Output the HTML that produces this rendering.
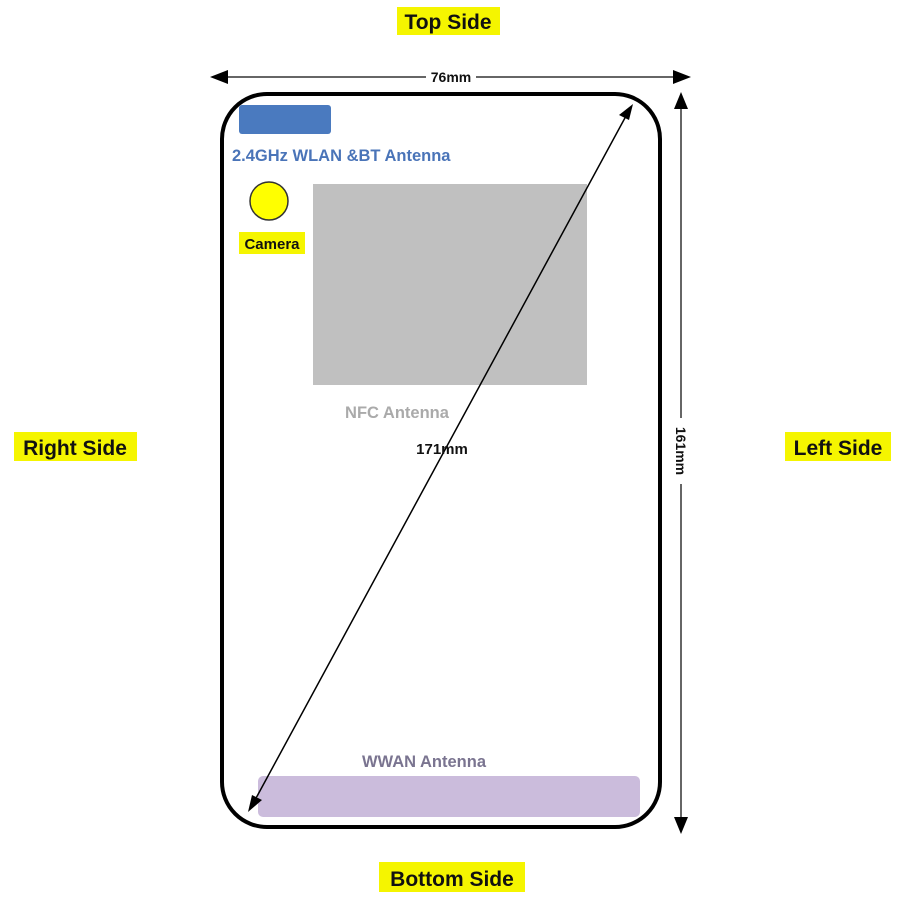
<!DOCTYPE html>
<html><head><style>
html,body{margin:0;padding:0;background:#fff;}
svg{display:block;font-family:"Liberation Sans",Arial,sans-serif;font-weight:bold;}
</style></head><body>
<svg width="900" height="900" viewBox="0 0 900 900" xmlns="http://www.w3.org/2000/svg">
<!-- highlights -->
<rect x="397" y="7" width="103" height="28" fill="#f5f500"/>
<text x="448" y="29" font-size="21" text-anchor="middle" fill="#111">Top Side</text>
<rect x="14" y="432" width="123" height="29" fill="#f5f500"/>
<text x="75" y="455" font-size="21" text-anchor="middle" fill="#111">Right Side</text>
<rect x="785" y="432" width="106" height="29" fill="#f5f500"/>
<text x="838" y="455" font-size="21" text-anchor="middle" fill="#111">Left Side</text>
<rect x="379" y="862" width="146" height="30" fill="#f5f500"/>
<text x="452" y="886" font-size="21" text-anchor="middle" fill="#111">Bottom Side</text>

<!-- phone -->
<rect x="222" y="94" width="438" height="733" rx="45" ry="45" fill="none" stroke="#000" stroke-width="4"/>
<rect x="239" y="105" width="92" height="29" rx="3" fill="#4a7abf"/>
<text x="232" y="161" font-size="16.5" fill="#4a74b8">2.4GHz WLAN &amp;BT Antenna</text>
<circle cx="269" cy="201" r="19" fill="#ffff00" stroke="#333" stroke-width="1.5"/>
<rect x="239" y="232" width="66" height="22" fill="#f5f500"/>
<text x="272" y="249" font-size="15" text-anchor="middle" fill="#111">Camera</text>
<rect x="313" y="184" width="274" height="201" fill="#c0c0c0"/>
<text x="397" y="418" font-size="16.5" text-anchor="middle" fill="#aaa">NFC Antenna</text>
<rect x="258" y="776" width="382" height="41" rx="5" fill="#cbbcdc"/>
<text x="424" y="767" font-size="16.5" text-anchor="middle" fill="#7a7490">WWAN Antenna</text>

<!-- width dim -->
<line x1="222" y1="77" x2="678" y2="77" stroke="#333" stroke-width="1.5"/>
<polygon points="210,77 228,70 228,84" fill="#000"/>
<polygon points="691,77 673,70 673,84" fill="#000"/>
<rect x="426" y="68" width="50" height="18" fill="#fff"/>
<text x="451" y="82" font-size="14" text-anchor="middle" fill="#111">76mm</text>

<!-- height dim -->
<line x1="681" y1="104" x2="681" y2="822" stroke="#333" stroke-width="1.5"/>
<polygon points="681,92 674,109 688,109" fill="#000"/>
<polygon points="681,834 674,817 688,817" fill="#000"/>
<rect x="673" y="418" width="16" height="66" fill="#fff"/>
<text transform="translate(676,451) rotate(90)" font-size="14" text-anchor="middle" fill="#111">161mm</text>

<!-- diagonal -->
<line x1="626" y1="116" x2="255" y2="800" stroke="#000" stroke-width="1.5"/>
<polygon points="633,104 619,115 629,120" fill="#000"/>
<polygon points="248,812 252,795 262,800" fill="#000"/>
<text x="442" y="454" font-size="15" text-anchor="middle" fill="#111">171mm</text>
</svg>
</body></html>
